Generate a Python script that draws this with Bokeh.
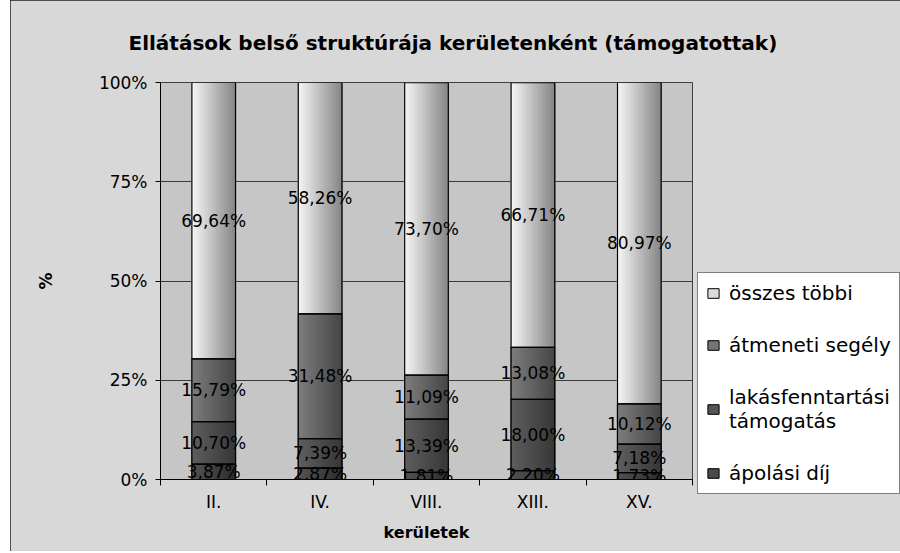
import numpy as np
from bokeh.plotting import figure
from bokeh.models import (ColumnDataSource, Legend, LegendItem, FixedTicker, Title)
from bokeh.transform import dodge
from bokeh.core.properties import value
from bokeh.embed import file_html
from bokeh.resources import INLINE

# ---------------- data ----------------
districts = ["II.", "IV.", "VIII.", "XIII.", "XV."]
series_names = ["ápolási díj", "lakásfenntartási\ntámogatás", "átmeneti segély", "összes többi"]
apolasi = [3.87, 2.87, 1.81, 2.20, 1.73]
lakas = [10.70, 7.39, 13.39, 18.00, 7.18]
atmeneti = [15.79, 31.48, 11.09, 13.08, 10.12]
osszes = [69.64, 58.26, 73.70, 66.71, 80.97]
y_ticks = [0, 25, 50, 75, 100]
y_tick_labels = ["0%", "25%", "50%", "75%", "100%"]
title_text = "Ellátások belső struktúrája kerületenként (támogatottak)"
x_title = "kerületek"
y_title = "%"

# ---------------- styles ----------------
FONT = "DejaVu Sans"
BAR_W = 0.41
N_STRIPS = 16
# bottom -> top order
grad = [("#525252", "#2e2e2e"), ("#5e5e5e", "#383838"), ("#7c7c7c", "#484848"), ("#f4f4f4", "#8a8a8a")]
legend_cols = ["#4a4a4a", "#555555", "#747474", "#dcdcdc"]

series = [apolasi, lakas, atmeneti, osszes]
keys = ["s0", "s1", "s2", "s3"]

xs = np.arange(len(districts)) + 0.5
data = {"x": xs}
cum = np.zeros(len(districts))
for k, vals in zip(keys, series):
    v = np.array(vals, dtype=float)
    data[k + "_b"] = cum.copy()
    data[k + "_t"] = cum + v
    data[k + "_m"] = cum + v / 2
    data[k + "_lbl"] = [f"{a:.2f}".replace(".", ",") + "%" for a in v]
    cum = cum + v
src = ColumnDataSource(data)

p = figure(width=888, height=550, frame_width=532, frame_height=397,
           output_backend="svg", toolbar_location=None,
           x_range=(0, len(districts)), y_range=(0, 100),
           min_border_left=150, min_border_right=206, min_border_top=81, min_border_bottom=72)
p.border_fill_color = "#d8d8d8"
p.background_fill_color = "#c6c6c6"
p.outline_line_color = "#404040"
p.styles = {"margin-left": "10px", "margin-top": "0px",
            "outline": "1px solid #202020", "outline-offset": "-1px"}

def hex2rgb(h):
    return np.array([int(h[i:i + 2], 16) for i in (1, 3, 5)], dtype=float)

def rgb2hex(c):
    return "#%02x%02x%02x" % tuple(int(round(t)) for t in c)

# legend renderers (flat fill, hidden under the gradient strips)
legend_renderers = []
for k, col in zip(keys, legend_cols):
    r = p.vbar(x="x", width=BAR_W, bottom=k + "_b", top=k + "_t", source=src,
               fill_color=col, line_color="black", line_width=1)
    legend_renderers.append(r)

# gradient strips
sw = BAR_W / N_STRIPS
for k, (c0, c1) in zip(keys, grad):
    a, b = hex2rgb(c0), hex2rgb(c1)
    for i in range(N_STRIPS):
        t = i / (N_STRIPS - 1)
        col = rgb2hex(a + (b - a) * t)
        off = -BAR_W / 2 + (i + 0.5) * sw
        p.vbar(x=dodge("x", off), width=sw * 1.5, bottom=k + "_b", top=k + "_t", source=src,
               fill_color=col, line_color=None)

# outlines
for k in keys:
    p.vbar(x="x", width=BAR_W, bottom=k + "_b", top=k + "_t", source=src,
           fill_alpha=0, line_color="black", line_width=1.2)

# data labels
for k in keys:
    p.text(x="x", y=k + "_m", text=k + "_lbl", source=src, text_align="center",
           text_baseline="middle", text_font=value(FONT), text_font_size="17px",
           text_color="black")

# axes
p.yaxis.ticker = FixedTicker(ticks=y_ticks)
p.yaxis.major_label_overrides = {t: l for t, l in zip(y_ticks, y_tick_labels)}
p.xaxis.ticker = FixedTicker(ticks=list(xs), minor_ticks=list(range(len(districts) + 1)))
p.xaxis.major_label_overrides = {float(x): d for x, d in zip(xs, districts)}
for ax in (p.xaxis[0], p.yaxis[0]):
    ax.axis_line_color = "black"
    ax.major_label_text_font = FONT
    ax.major_label_text_font_size = "17px"
    ax.major_label_text_color = "black"
    ax.axis_label_text_font = FONT
    ax.axis_label_text_font_style = "bold"
    ax.axis_label_text_color = "black"
    ax.axis_label_text_font_size = "16px"
p.xaxis.major_tick_line_color = None
p.xaxis.minor_tick_line_color = "black"
p.xaxis.minor_tick_in = 0
p.xaxis.minor_tick_out = 6
p.xaxis.major_label_standoff = 6
p.xaxis.axis_label = x_title
p.xaxis.axis_label_standoff = 8
p.yaxis.major_tick_in = 0
p.yaxis.major_tick_out = 5
p.yaxis.minor_tick_line_color = None
p.yaxis.major_label_standoff = 8
p.yaxis.axis_label = y_title
p.yaxis.axis_label_standoff = 40
p.yaxis.axis_label_text_font_size = "17px"

p.xgrid.grid_line_color = None
p.ygrid.grid_line_color = "#3a3a3a"
p.ygrid.ticker = FixedTicker(ticks=y_ticks)

# title
p.title = Title(text=title_text, align="left", offset=-32, standoff=56,
                text_font=FONT, text_font_size="20px", text_font_style="bold",
                text_color="black")

# legend
items = [LegendItem(label=n, renderers=[r]) for n, r in zip(series_names, legend_renderers)]
items = items[::-1]
legend = Legend(items=items, location=(5, -15),
                label_text_font=FONT, label_text_font_size="20px", label_text_color="black",
                glyph_width=14, glyph_height=12, spacing=28, padding=8, margin=0,
                background_fill_color="white", background_fill_alpha=1,
                border_line_color="black", border_line_width=1, label_standoff=9)
p.add_layout(legend, "right")

open("out.html", "w").write(file_html(p, INLINE))
